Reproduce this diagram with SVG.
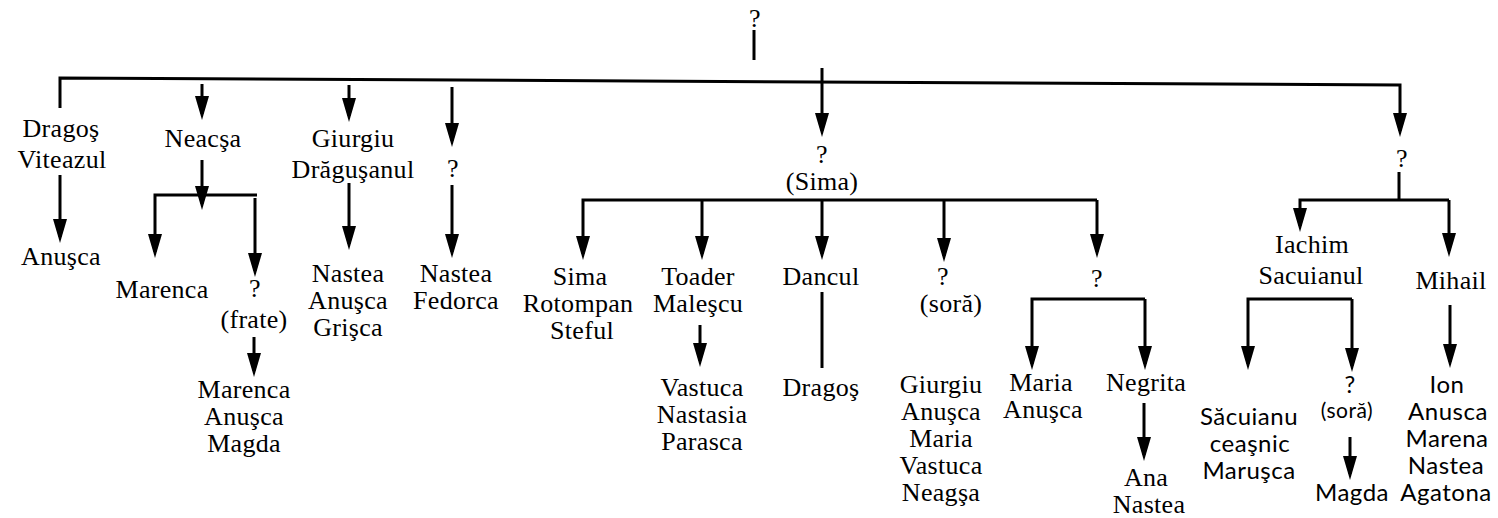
<svg xmlns="http://www.w3.org/2000/svg" width="1498" height="518" viewBox="0 0 1498 518">
<style>
  text { font-family: "Liberation Serif", "Times New Roman", serif; font-size: 26px; letter-spacing: 0.3px; fill: #000; text-anchor: middle; }
  text.s { font-family: Lato, "Open Sans", "DejaVu Sans", sans-serif; font-size: 24px; letter-spacing: 0.5px; }
  text.ss { font-family: Lato, "Open Sans", "DejaVu Sans", sans-serif; font-size: 21px; letter-spacing: 0.5px; }
  .ln { fill: none; stroke: #000; stroke-width: 3; stroke-linejoin: miter; }
  .ar { marker-end: url(#arrow); }
</style>
<defs>
  <marker id="arrow" viewBox="0 0 24 14" refX="18" refY="7" markerWidth="24" markerHeight="14" markerUnits="userSpaceOnUse" orient="auto">
    <path d="M0,0 L24,7 L0,14 Z" fill="#000"/>
  </marker>
</defs>
<rect width="1498" height="518" fill="#fff"/>

<g id="connectors">
  <path class="ln" d="M754,30 V60"/>
  <path class="ln ar" d="M60,108 V78 L1400,85 V131"/>
  <path class="ln ar" d="M202,84 V114"/>
  <path class="ln ar" d="M349,85 V116"/>
  <path class="ln ar" d="M452,87 V141"/>
  <path class="ln ar" d="M822,68 V131"/>
  <path class="ln ar" d="M60,175 V237"/>
  <path class="ln ar" d="M202,160 V204"/>
  <path class="ln ar" d="M257,195 H155 V252"/>
  <path class="ln ar" d="M255,198 V271"/>
  <path class="ln ar" d="M254,337 V371"/>
  <path class="ln ar" d="M349,183 V244"/>
  <path class="ln ar" d="M452,185 V252"/>
  <path class="ln ar" d="M1097,200 H583 V254"/>
  <path class="ln ar" d="M1097,200 V252"/>
  <path class="ln ar" d="M702,200 V254"/>
  <path class="ln ar" d="M822,200 V254"/>
  <path class="ln ar" d="M944,200 V256"/>
  <path class="ln ar" d="M700,325 V361"/>
  <path class="ln" d="M822,292 V368"/>
  <path class="ln ar" d="M1145,299 H1032 V364"/>
  <path class="ln ar" d="M1145,299 V364"/>
  <path class="ln ar" d="M1144,403 V455"/>
  <path class="ln" d="M1399,172 V200"/>
  <path class="ln ar" d="M1449,200 H1300 V226"/>
  <path class="ln ar" d="M1449,200 V251"/>
  <path class="ln ar" d="M1352,299 H1248 V364"/>
  <path class="ln ar" d="M1352,299 V366"/>
  <path class="ln ar" d="M1350,437 V474"/>
  <path class="ln ar" d="M1450,305 V362"/>
</g>

<g id="n-root"><text x="755" y="27">?</text></g>
<g id="n-dragos"><text x="61" y="137">Dragoş</text><text x="62" y="168">Viteazul</text></g>
<g id="n-anusca1"><text x="61" y="265">Anuşca</text></g>
<g id="n-neacsa"><text x="203" y="147">Neacşa</text></g>
<g id="n-marenca1"><text x="162" y="298">Marenca</text></g>
<g id="n-frate"><text x="255" y="297">?</text><text x="254" y="328">(frate)</text></g>
<g id="n-frate-kids"><text x="244" y="398">Marenca</text><text x="244" y="425">Anuşca</text><text x="244" y="452">Magda</text></g>
<g id="n-giurgiu"><text x="353" y="147">Giurgiu</text><text x="353" y="178">Drăguşanul</text></g>
<g id="n-giurgiu-kids"><text x="348" y="282">Nastea</text><text x="348" y="309">Anuşca</text><text x="348" y="336">Grişca</text></g>
<g id="n-q4"><text x="453" y="177">?</text></g>
<g id="n-q4-kids"><text x="456" y="282">Nastea</text><text x="456" y="309">Fedorca</text></g>
<g id="n-sima"><text x="822" y="163">?</text><text x="822" y="190">(Sima)</text></g>
<g id="n-sima-jr"><text x="580" y="285">Sima</text><text x="578" y="312">Rotompan</text><text x="582" y="339">Steful</text></g>
<g id="n-toader"><text x="698" y="285">Toader</text><text x="698" y="312">Maleşcu</text></g>
<g id="n-toader-kids"><text x="702" y="396">Vastuca</text><text x="702" y="423">Nastasia</text><text x="702" y="450">Parasca</text></g>
<g id="n-dancul"><text x="821" y="285">Dancul</text></g>
<g id="n-dragos2"><text x="821" y="396">Dragoş</text></g>
<g id="n-sora1"><text x="943" y="285">?</text><text x="951" y="312">(soră)</text></g>
<g id="n-sora1-kids"><text x="941" y="393">Giurgiu</text><text x="941" y="420">Anuşca</text><text x="941" y="447">Maria</text><text x="941" y="474">Vastuca</text><text x="941" y="501">Neagşa</text></g>
<g id="n-q5"><text x="1097" y="287">?</text></g>
<g id="n-maria"><text x="1041" y="391">Maria</text><text x="1043" y="418">Anuşca</text></g>
<g id="n-negrita"><text x="1146" y="391">Negrita</text></g>
<g id="n-ana"><text x="1146" y="486">Ana</text><text x="1149" y="513">Nastea</text></g>
<g id="n-q6"><text x="1402" y="167">?</text></g>
<g id="n-iachim"><text x="1312" y="253">Iachim</text><text x="1311" y="284">Sacuianul</text></g>
<g id="n-mihail"><text x="1451" y="289">Mihail</text></g>
<g id="n-sacuianu"><text class="s" x="1249" y="425">Săcuianu</text><text class="s" x="1250" y="452">ceaşnic</text><text class="s" x="1249" y="479">Maruşca</text></g>
<g id="n-sora2"><text class="s" x="1350" y="393">?</text><text class="ss" x="1347" y="418">(soră)</text></g>
<g id="n-magda"><text class="s" x="1352" y="501">Magda</text></g>
<g id="n-ion"><text class="s" x="1447" y="393">Ion</text><text class="s" x="1448" y="420">Anusca</text><text class="s" x="1447" y="447">Marena</text><text class="s" x="1446" y="474">Nastea</text><text class="s" x="1446" y="501">Agatona</text></g>
</svg>
